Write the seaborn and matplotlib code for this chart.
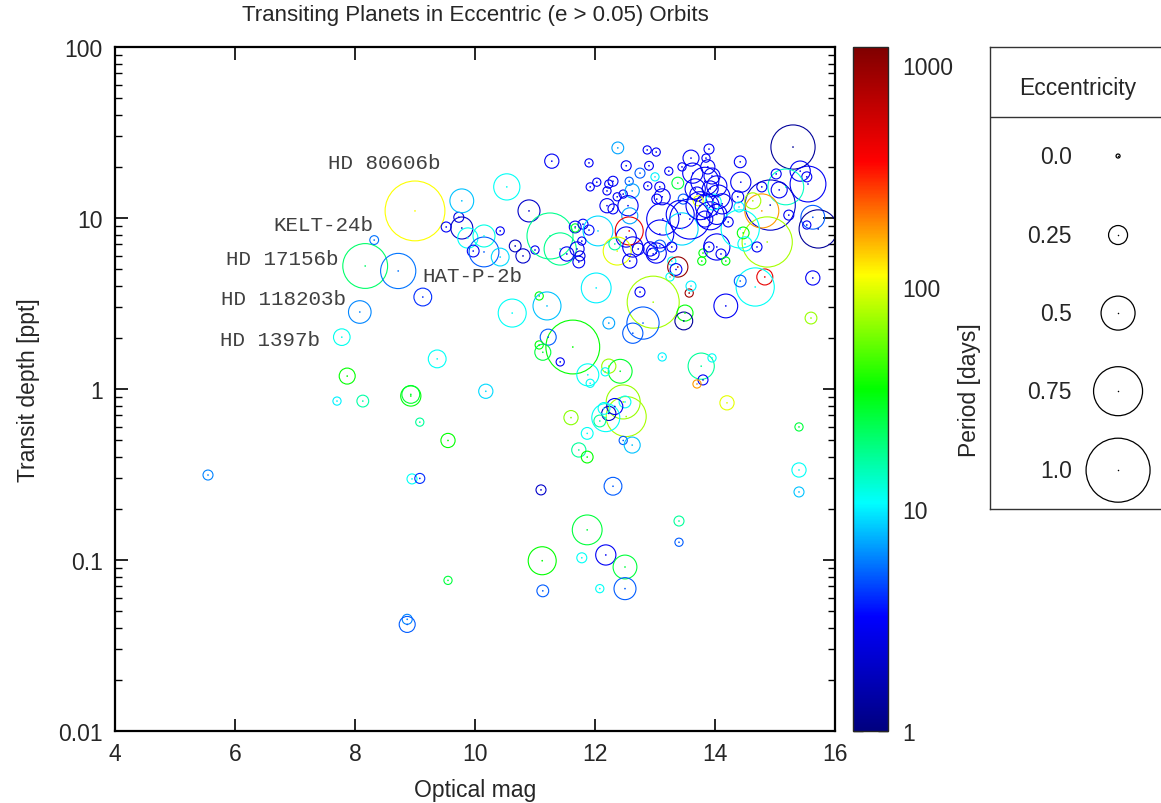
import numpy as np
import pandas as pd
import matplotlib
matplotlib.use("Agg")
import matplotlib.pyplot as plt
import seaborn as sns
from matplotlib.colors import LogNorm, LinearSegmentedColormap
from matplotlib.cm import ScalarMappable
from matplotlib.ticker import LogLocator, NullFormatter

sns.set_style("ticks")
plt.rcParams["font.family"] = ["Liberation Sans", "DejaVu Sans"]

# ---------------- data ----------------
mag = [5.55, 7.78, 8.08, 8.17, 8.32, 8.72, 9.00, 9.13, 9.52, 9.73,
       9.78, 9.78, 9.88, 10.15, 9.97, 10.15, 10.42, 10.42, 10.53, 10.90,
       10.67, 10.80, 11.00, 11.25, 11.42, 11.53, 11.67, 11.67, 11.75, 11.73,
       11.80, 11.90, 11.70, 11.28, 11.90, 11.92, 12.03, 12.05, 11.78, 12.38,
       12.87, 13.02, 13.90, 13.85, 12.52, 12.90, 12.75, 13.23, 13.00, 13.45,
       13.63, 13.88, 12.57, 12.30, 12.23, 12.20, 12.37, 12.47, 12.62, 12.88,
       13.08, 13.12, 13.03, 13.38, 13.47, 13.67, 13.70, 13.72, 13.92, 13.87,
       14.03, 12.20, 12.30, 12.55, 12.58, 12.52, 12.57, 12.33, 12.37, 12.63,
       12.58, 12.72, 12.92, 12.97, 13.08, 13.08, 13.13, 13.45, 13.42, 13.28,
       13.28, 13.38, 13.35, 13.25, 13.02, 12.02, 12.97, 13.78, 13.80, 13.90,
       14.03, 14.10, 14.18, 15.30, 15.42, 15.53, 15.55, 15.18, 15.02, 14.78,
       15.07, 14.92, 14.78, 14.63, 14.42, 14.43, 14.38, 14.40, 14.87, 14.42,
       14.47, 14.50, 14.70, 15.23, 15.63, 15.53, 15.72, 14.83, 14.67, 14.42,
       15.63, 14.18, 15.60, 13.95, 14.05, 13.97, 14.12, 13.92, 13.83, 14.22,
       13.75, 13.58, 13.83, 14.03, 13.60, 10.62, 11.07, 11.20, 11.63, 11.22,
       11.07, 11.13, 11.42, 11.88, 11.92, 12.23, 12.42, 12.17, 12.23, 12.80,
       12.63, 12.75, 13.50, 13.48, 13.57, 13.60, 13.12, 13.77, 13.95, 13.80,
       13.70, 14.20, 10.18, 12.47, 12.52, 12.50, 12.33, 12.23, 12.18, 12.08,
       12.15, 11.60, 11.87, 11.73, 11.87, 12.47, 12.62, 15.40, 15.40, 15.40,
       11.10, 12.30, 9.37, 7.87, 7.70, 8.13, 8.93, 8.93, 9.08, 9.55,
       8.95, 9.08, 11.12, 11.13, 9.55, 8.87, 8.87, 11.87, 11.78, 12.18,
       12.50, 12.08, 12.50, 13.40, 13.40]

depth = [0.314, 2.01, 2.82, 5.24, 7.43, 4.90, 11.0, 3.45, 8.86, 10.1,
         12.6, 8.74, 7.64, 7.85, 6.41, 6.33, 5.91, 8.40, 15.2, 11.0,
         6.86, 6.00, 6.50, 7.85, 6.59, 6.16, 8.86, 8.75, 6.00, 5.53,
         9.20, 8.50, 6.59, 21.5, 21.0, 15.2, 16.2, 8.40, 7.33, 25.7,
         25.0, 24.3, 25.3, 22.4, 20.2, 20.2, 18.3, 18.8, 17.4, 19.9,
         18.3, 19.9, 16.4, 16.4, 15.8, 14.4, 13.3, 13.8, 14.4, 15.4,
         15.2, 13.3, 12.9, 16.0, 12.9, 14.8, 13.8, 12.6, 14.8, 11.8,
         10.5, 11.8, 11.3, 11.8, 10.3, 7.74, 8.40, 7.05, 6.41, 6.77,
         5.60, 6.59, 6.59, 6.16, 6.86, 8.06, 9.87, 8.63, 10.5, 6.77,
         5.60, 5.17, 5.00, 4.52, 6.24, 3.90, 3.22, 5.60, 6.24, 6.77,
         6.77, 6.16, 5.60, 26.0, 18.8, 17.4, 15.8, 15.2, 18.1, 15.2,
         14.6, 11.9, 11.0, 12.6, 21.3, 16.2, 13.3, 11.6, 7.24, 8.63,
         8.18, 7.05, 6.77, 10.4, 10.1, 9.10, 8.63, 4.52, 3.95, 4.28,
         4.46, 3.06, 2.60, 17.6, 13.3, 12.4, 12.1, 10.3, 9.86, 9.48,
         11.8, 9.86, 16.4, 15.4, 22.4, 2.78, 3.50, 3.06, 1.76, 2.01,
         1.81, 1.64, 1.44, 1.21, 1.08, 1.36, 1.27, 1.26, 2.43, 2.43,
         2.12, 3.69, 2.78, 2.50, 3.64, 4.00, 1.54, 1.36, 1.52, 1.13,
         1.07, 0.83, 0.97, 0.84, 0.69, 0.84, 0.79, 0.72, 0.68, 0.65,
         0.77, 0.68, 0.55, 0.44, 0.40, 0.50, 0.47, 0.60, 0.336, 0.25,
         0.257, 0.27, 1.50, 1.19, 0.85, 0.85, 0.91, 0.93, 0.64, 0.50,
         0.298, 0.30, 0.099, 0.066, 0.076, 0.045, 0.042, 0.15, 0.103, 0.107,
         0.091, 0.068, 0.068, 0.169, 0.127]

ecc = [0.10, 0.21, 0.31, 0.68, 0.08, 0.52, 0.93, 0.23, 0.10, 0.10,
       0.33, 0.30, 0.27, 0.30, 0.13, 0.43, 0.23, 0.07, 0.37, 0.30,
       0.13, 0.17, 0.07, 0.70, 0.47, 0.17, 0.13, 0.07, 0.10, 0.13,
       0.10, 0.10, 0.17, 0.17, 0.07, 0.07, 0.07, 0.43, 0.07, 0.13,
       0.07, 0.07, 0.10, 0.07, 0.10, 0.08, 0.10, 0.07, 0.07, 0.07,
       0.27, 0.17, 0.07, 0.10, 0.07, 0.07, 0.07, 0.07, 0.17, 0.07,
       0.10, 0.20, 0.10, 0.13, 0.10, 0.27, 0.17, 0.10, 0.20, 0.33,
       0.27, 0.17, 0.10, 0.27, 0.20, 0.27, 0.40, 0.13, 0.40, 0.27,
       0.17, 0.13, 0.17, 0.13, 0.13, 0.40, 0.47, 0.47, 0.40, 0.10,
       0.07, 0.27, 0.13, 0.07, 0.27, 0.43, 0.80, 0.07, 0.07, 0.10,
       0.37, 0.10, 0.07, 0.67, 0.27, 0.10, 0.53, 0.53, 0.10, 0.10,
       0.20, 0.77, 0.50, 0.20, 0.13, 0.27, 0.13, 0.10, 0.77, 0.57,
       0.13, 0.17, 0.10, 0.10, 0.33, 0.07, 0.57, 0.20, 0.57, 0.13,
       0.17, 0.33, 0.13, 0.20, 0.33, 0.20, 0.27, 0.40, 0.20, 0.10,
       0.40, 0.60, 0.40, 0.27, 0.20, 0.40, 0.07, 0.40, 0.83, 0.20,
       0.07, 0.20, 0.07, 0.30, 0.07, 0.17, 0.33, 0.07, 0.13, 0.47,
       0.27, 0.10, 0.20, 0.23, 0.07, 0.10, 0.07, 0.37, 0.07, 0.10,
       0.07, 0.17, 0.17, 0.50, 0.60, 0.13, 0.20, 0.17, 0.40, 0.13,
       0.13, 0.17, 0.13, 0.17, 0.13, 0.07, 0.20, 0.07, 0.17, 0.10,
       0.10, 0.23, 0.23, 0.20, 0.07, 0.13, 0.27, 0.23, 0.07, 0.17,
       0.10, 0.10, 0.40, 0.13, 0.07, 0.10, 0.20, 0.43, 0.10, 0.27,
       0.33, 0.07, 0.30, 0.10, 0.07]

period = [6, 11.5, 6.1, 21.2, 5.55, 5.63, 111.4, 4, 3, 2.5,
          8, 2, 11, 12, 3, 5, 9, 3, 11, 2,
          1.8, 2, 3, 18, 18, 3, 3, 28, 2.5, 3,
          3, 3.5, 3, 3, 3, 3, 3, 9, 3, 7,
          3, 3, 3, 3, 3, 3, 5, 3, 10, 3,
          3, 3, 5, 3, 3, 3, 3, 3, 7, 3,
          3, 3, 3, 26, 5, 3, 3, 100, 3, 3,
          3, 3, 3, 3, 7, 3, 450, 17, 100, 3,
          3, 3, 3, 3, 5, 3, 3, 9, 3, 3,
          11, 1000, 3, 11, 3, 10, 75, 33, 33, 3,
          3, 3, 33, 1.3, 3, 3, 3, 14, 3, 3,
          3, 2, 180, 75, 3, 3, 3, 10, 75, 11,
          33, 11, 3, 3, 5, 3, 1.3, 450, 11, 5,
          3, 3, 70, 3, 3, 11, 3, 3, 3, 3,
          3, 3, 3, 3, 3, 11, 33, 8, 35, 5,
          33, 26, 3, 11, 11, 70, 28, 11, 7, 5,
          5, 3, 33, 1.3, 900, 10, 10, 17, 11, 3,
          180, 100, 9, 70, 75, 11, 3, 2, 11, 17,
          11, 65, 11, 17, 35, 5, 8, 26, 11, 8,
          2, 5, 11, 35, 10, 16, 33, 28, 17, 35,
          11, 4, 35, 5, 26, 6, 5, 26, 11, 3,
          26, 11, 5, 17, 5]

planet_names = ["HD 80606b", "KELT-24b", "HD 17156b", "HAT-P-2b",
                "HD 118203b", "HD 1397b"]
name_mag = [9.42, 8.30, 7.73, 9.12, 7.85, 7.42]
name_depth = [21.2, 9.2, 5.83, 4.63, 3.38, 1.96]
name_align = ["right", "right", "right", "left", "right", "right"]

legend_ecc = [0.0, 0.25, 0.5, 0.75, 1.0]
legend_text = ["0.0", "0.25", "0.5", "0.75", "1.0"]

period_ticks = [1, 10, 100, 1000]
period_ticklabels = ["1", "10", "100", "1000"]
mag_ticks = [4, 6, 8, 10, 12, 14, 16]
depth_ticks = [0.01, 0.1, 1, 10, 100]
depth_ticklabels = ["0.01", "0.1", "1", "10", "100"]

palette_nodes = [(0.0, 0.0, 0.5), (0.0, 0.0, 1.0), (0.0, 1.0, 1.0),
                 (0.0, 1.0, 0.0), (1.0, 1.0, 0.0), (1.0, 0.0, 0.0),
                 (0.5, 0.0, 0.0)]

# ---------------- build ----------------
df = pd.DataFrame(dict(mag=mag, depth=depth, ecc=ecc, period=period))
PX2PT = 72.0 / 100.0
df["area"] = ((4 + 60 * df["ecc"]) * PX2PT) ** 2
A0 = (4 * PX2PT) ** 2
A1 = (64 * PX2PT) ** 2
norm = LogNorm(1, 1200)
cmap = LinearSegmentedColormap.from_list("gp_jet", palette_nodes, N=512)

FS = 16.5
fig = plt.figure(figsize=(11.61, 8.04), dpi=100)
W, H = 1161.0, 804.0
ax = fig.add_axes([115 / W, 72 / H, 720 / W, 684 / H])

sns.scatterplot(data=df, x="mag", y="depth", hue="period", hue_norm=norm,
                palette=cmap, size="area", sizes=(A0, A1), size_norm=(A0, A1),
                legend=False, ax=ax, marker="o")
rings = ax.collections[0]
fc = rings.get_facecolors()
rings.set_edgecolors(fc)
rings.set_facecolors("none")
rings.set_linewidths(0.8)

sns.scatterplot(data=df, x="mag", y="depth", hue="period", hue_norm=norm,
                palette=cmap, s=1.5, linewidth=0, legend=False, ax=ax)

ax.set_yscale("log")
ax.set_xlim(4, 16)
ax.set_ylim(0.01, 100)
ax.set_xticks(mag_ticks)
ax.set_xticklabels([str(t) for t in mag_ticks])
ax.set_yticks(depth_ticks)
ax.set_yticklabels(depth_ticklabels)
ax.yaxis.set_minor_locator(LogLocator(base=10, subs=np.arange(2, 10)))
ax.yaxis.set_minor_formatter(NullFormatter())
ax.tick_params(which="both", direction="in", top=True, right=True,
               color="black", labelsize=FS)
ax.tick_params(axis="y", pad=9)
ax.tick_params(axis="x", pad=8)
ax.tick_params(which="major", length=9, width=1.2)
ax.tick_params(which="minor", length=5, width=1.0)
for sp in ax.spines.values():
    sp.set_linewidth(1.6)
    sp.set_color("black")
ax.set_xlabel("Optical mag", fontsize=FS, labelpad=9)
ax.set_ylabel("Transit depth [ppt]", fontsize=FS, labelpad=13)

for nm, xm, yd, ha in zip(planet_names, name_mag, name_depth, name_align):
    ax.text(xm, yd, nm, ha=ha, va="center", fontsize=15,
            family=["Liberation Mono", "DejaVu Sans Mono"], color="#404040")

fig.text(475 / W, 1 - 16 / H, "Transiting Planets in Eccentric (e > 0.05) Orbits",
         ha="center", va="center", fontsize=16)

# colorbar
cax = fig.add_axes([853 / W, 72 / H, 35 / W, 684 / H])
cb = fig.colorbar(ScalarMappable(norm=norm, cmap=cmap), cax=cax)
cb.set_ticks(period_ticks)
cb.set_ticklabels(period_ticklabels)
cax.yaxis.set_minor_locator(LogLocator(base=10, subs=np.arange(2, 10)))
cax.yaxis.set_minor_formatter(NullFormatter())
cax.tick_params(which="both", direction="in", left=True, right=True,
                labelright=True, labelleft=False, labelsize=FS, color="black",
                pad=10)
cax.tick_params(which="major", length=7, width=1.0)
cax.tick_params(which="minor", length=4, width=0.8)
cb.outline.set_linewidth(1.0)
cb.set_label("Period [days]", fontsize=FS, labelpad=4)

# eccentricity legend box
lw_px = 232.0
lax = fig.add_axes([990 / W, 294 / H, lw_px / W, 462 / H])
lax.set_xticks([])
lax.set_yticks([])
for sp in lax.spines.values():
    sp.set_color("#333333")
    sp.set_linewidth(1.0)
lax.axhline(0.8485, color="#333333", lw=1.0)
lax.text(0.379, 0.913, "Eccentricity", ha="center", va="center", fontsize=FS,
         transform=lax.transAxes)
leg_y = [0.764, 0.593, 0.424, 0.255, 0.084]
leg_df = pd.DataFrame(dict(x=[0.552] * len(legend_ecc), y=leg_y, ecc=legend_ecc))
leg_df["area"] = ((4 + 60 * leg_df["ecc"]) * PX2PT) ** 2
sns.scatterplot(data=leg_df, x="x", y="y", size="area", sizes=(A0, A1),
                size_norm=(A0, A1), color="black", legend=False, ax=lax)
lr = lax.collections[0]
lr.set_edgecolors("black")
lr.set_facecolors("none")
lr.set_linewidths(0.9)
sns.scatterplot(data=leg_df, x="x", y="y", color="black", s=1.2, linewidth=0,
                legend=False, ax=lax)
for t, yy in zip(legend_text, leg_y):
    lax.text(0.353, yy, t, ha="right", va="center", fontsize=FS,
             transform=lax.transAxes)
lax.set_xlim(0, 1)
lax.set_ylim(0, 1)
lax.set_xlabel("")
lax.set_ylabel("")

fig.savefig("out.png", dpi=100)
